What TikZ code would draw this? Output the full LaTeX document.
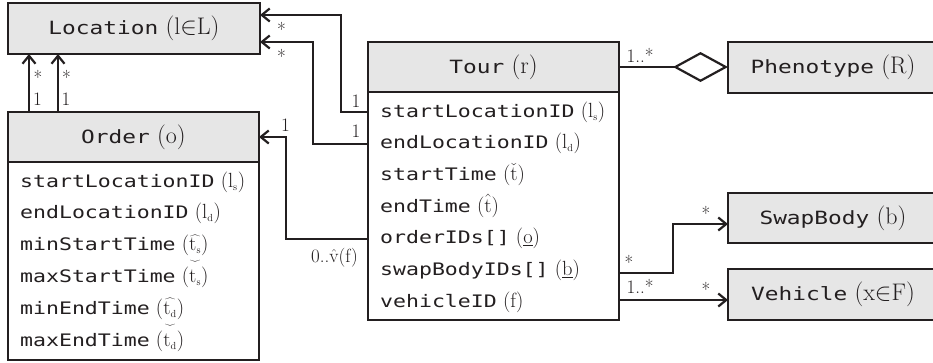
\documentclass[tikz,border=0pt]{standalone}
\usepackage{fontspec}
\newfontfamily\attrmono[Scale=0.84,FakeStretch=1.25]{DejaVu Sans Mono}
\newfontfamily\hdrmono[Scale=0.76,FakeStretch=1.25]{DejaVu Sans Mono}
\usepackage{graphicx}
\usetikzlibrary{arrows.meta,calc}
\definecolor{ink}{RGB}{35,31,32}
\definecolor{hdrfill}{RGB}{230,230,230}
\newcommand{\wck}[1]{\mathord{\ooalign{\hfil\raisebox{1.35em}{\scalebox{1}[-1]{$\widehat{\hphantom{#1}}$}}\hfil\cr$#1$\cr}}}
\newcommand{\subsc}[1]{_{\scriptscriptstyle\mathrm{#1}}}
\newcommand{\am}[1]{{\attrmono #1}}
\newcommand{\hm}[1]{{\hdrmono #1}}
\tikzset{
  boxline/.style={draw=ink, line width=2.6pt},
  hdr/.style={boxline, fill=hdrfill, inner sep=0pt, outer sep=0pt, text=ink, font=\fontsize{24}{29}\selectfont},
  bodybox/.style={boxline, fill=white, inner sep=0pt, outer sep=0pt},
  attr/.style={anchor=west, inner sep=0pt, text=ink, font=\fontsize{20.5}{24}\selectfont, text height=15pt, text depth=5pt},
  conn/.style={draw=ink, line width=2.2pt},
  arr/.style={conn, -{Straight Barb[length=8pt,width=13pt]}},
  lbl/.style={anchor=base, inner sep=0pt, text=ink, font=\fontsize{19}{23}\selectfont},
}
\begin{document}
\begin{tikzpicture}[x=1pt,y=-1pt]
\clip (0,0) rectangle (933,362);
\fill[white] (0,0) rectangle (933,362);

% Location
\node[hdr, minimum width=252pt, minimum height=51pt] (loc) at (134,28.5) {\hm{Location} $(\mathrm{l}{\in}\mathrm{L})$};

% Order
\node[hdr, minimum width=251pt, minimum height=50pt] (ordh) at (133.5,137) {\hm{Order} $(\mathrm{o})$};
\node[bodybox, minimum width=251pt, minimum height=198pt] (ordb) at (133.5,261) {};
\node[attr] (osl) at (20,182)   {\am{startLocationID} $(\mathrm{l}\subsc{s})$};
\node[attr] (oel) at (20,213.8) {\am{endLocationID} $(\mathrm{l}\subsc{d})$};
\node[attr] (omst) at (20,245.6) {\am{minStartTime} $(\widehat{\mathrm{t}\subsc{s}})$};
\node[attr] (oxst) at (20,277.4) {\am{maxStartTime} $(\wck{\mathrm{t}\subsc{s}})$};
\node[attr] (omet) at (20,309.2) {\am{minEndTime} $(\widehat{\mathrm{t}\subsc{d}})$};
\node[attr] (oxet) at (20,341)   {\am{maxEndTime} $(\wck{\mathrm{t}\subsc{d}})$};

% Tour
\node[hdr, minimum width=251pt, minimum height=50pt] (tourh) at (493.5,67) {\hm{Tour} $(\mathrm{r})$};
\node[bodybox, minimum width=251pt, minimum height=228pt] (tourb) at (493.5,206) {};
\node[attr] (tsl) at (380,112)   {\am{startLocationID} $(\mathrm{l}\subsc{s})$};
\node[attr] (tel) at (380,143.7) {\am{endLocationID} $(\mathrm{l}\subsc{d})$};
\node[attr] (tst) at (380,175.3) {\am{startTime} $(\check{\mathrm{t}})$};
\node[attr] (tet) at (380,207)   {\am{endTime} $(\hat{\mathrm{t}})$};
\node[attr] (toid) at (380,238.7) {\am{orderIDs[]} $(\underline{\mathrm{o}})$};
\node[attr] (tsb) at (380,270.3) {\am{swapBodyIDs[]} $(\underline{\mathrm{b}})$};
\node[attr] (tvid) at (380,302)  {\am{vehicleID} $(\mathrm{f})$};

% right boxes
\node[hdr, minimum width=210pt, minimum height=51pt] (phen) at (833,67.5) {\hm{Phenotype} $(\mathrm{R})$};
\node[hdr, minimum width=210pt, minimum height=50pt] (swb) at (833,218) {\hm{SwapBody} $(\mathrm{b})$};
\node[hdr, minimum width=210pt, minimum height=51pt] (veh) at (833,294.5) {\hm{Vehicle} $(\mathrm{x}{\in}\mathrm{F})$};

% Order -> Location
\coordinate (oa1) at ($(ordh.north)+(-104.5,0)$);
\coordinate (oa2) at ($(ordh.north)+(-75.5,0)$);
\draw[arr] (oa1) -- (oa1 |- loc.south);
\draw[arr] (oa2) -- (oa2 |- loc.south);
\node[lbl] (m1) at (38,84) {*};
\node[lbl] (m2) at (37.5,105) {1};
\node[lbl] (m3) at (66.5,84) {*};
\node[lbl] (m4) at (66,105) {1};

% Tour -> Location
\coordinate (c1) at (tourb.west |- tsl);
\coordinate (c2) at (tourb.west |- tel);
\draw[arr] (c1) -- ++(-27,0) |- ($(loc.east)+(0,-13.5)$);
\draw[arr] (c2) -- ++(-55,0) |- ($(loc.east)+(0,13.5)$);
\node[lbl] (m5) at (281.5,36) {*};
\node[lbl] (m6) at (281.5,63) {*};
\node[lbl] (m7) at (356,107) {1};
\node[lbl] (m8) at (356,137) {1};

% Tour -> Order
\coordinate (c3) at (tourb.west |- toid);
\draw[arr] (c3) -- ++(-82,0) |- (ordh.east);
\node[lbl] (m9) at (285.5,131) {1};
\node[lbl] (m10) at (334.5,262) {0..$\hat{\mathrm{v}}$(f)};

% Tour -- Phenotype (aggregation)
\draw[conn, -{Diamond[length=55pt,width=30pt,fill=white]}] (tourh.east) -- (tourh.east -| phen.west);
\node[lbl] (m11) at (640,62) {1..*};

% Tour -> SwapBody
\coordinate (c4) at ($(tourb.east |- tsb)+(0,3)$);
\draw[arr] (c4) -- ++(54,0) |- ($(swb.west)+(0,6)$);
\node[lbl] (m12) at (629,269) {*};
\node[lbl] (m13) at (706,220) {*};

% Tour -> Vehicle
\coordinate (c5) at ($(tourb.east |- tvid)+(0,-2)$);
\draw[arr] (c5) -- (c5 -| veh.west);
\node[lbl] (m14) at (640,293) {1..*};
\node[lbl] (m15) at (706,296) {*};
\end{tikzpicture}
\end{document}
